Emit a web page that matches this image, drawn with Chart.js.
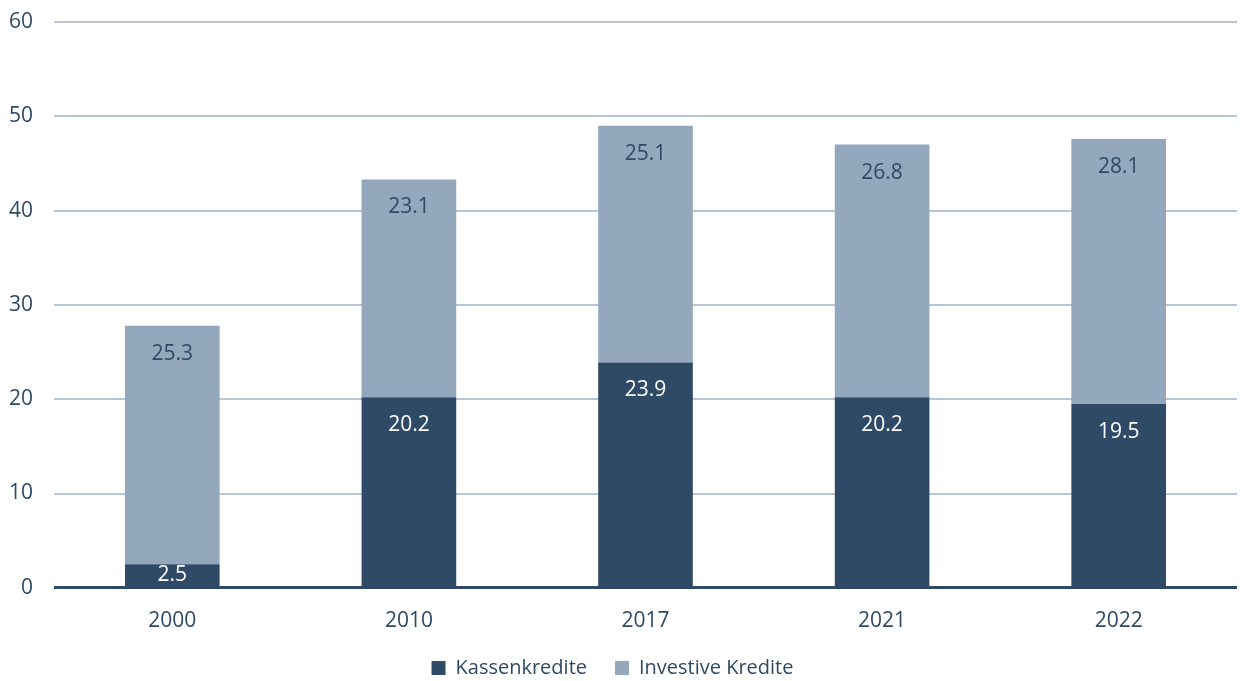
<!DOCTYPE html>
<html lang="de">
<head>
    <meta charset="UTF-8">
    <title>Kredite</title>
    <script src="https://cdn.jsdelivr.net/npm/chart.js@4/dist/chart.umd.min.js"></script>
    <style>
        * { margin: 0; padding: 0; box-sizing: border-box; }
        body { background: #ffffff; width: 1245px; height: 681px; overflow: hidden; }
        .chart-wrap { position: relative; width: 1245px; height: 681px; }
    </style>
</head>
<body>
    <div class="chart-wrap">
        <canvas id="chart"></canvas>
    </div>

    <script>
        // Data
        const years = ['2000', '2010', '2017', '2021', '2022'];
        const kassenkredite = [2.5, 20.2, 23.9, 20.2, 19.5];
        const investiveKredite = [25.3, 23.1, 25.1, 26.8, 28.1];
        const yTicks = [0, 10, 20, 30, 40, 50, 60];

        const darkBlue = '#2e4a66';
        const lightBlue = '#93a8bc';
        const gridColor = '#b8c6d3';
        const textColor = '#2e4a66';
        const fontFamily = '"Open Sans", "Noto Sans", sans-serif';

        // Value labels near the top inside each segment (centred if the segment is small)
        const barLabels = {
            id: 'barLabels',
            afterDatasetsDraw(chart) {
                const ctx = chart.ctx;
                ctx.save();
                ctx.font = '21px ' + fontFamily;
                ctx.textAlign = 'center';
                ctx.textBaseline = 'middle';
                chart.data.datasets.forEach((ds, i) => {
                    const meta = chart.getDatasetMeta(i);
                    meta.data.forEach((bar, j) => {
                        const h = bar.base - bar.y;
                        const offset = Math.min(28, h / 2);
                        ctx.fillStyle = i === 0 ? '#ffffff' : textColor;
                        ctx.fillText(ds.data[j].toFixed(1), bar.x, bar.y + offset);
                    });
                });
                ctx.restore();
            }
        };

        new Chart(document.getElementById('chart'), {
            type: 'bar',
            data: {
                labels: years,
                datasets: [
                    {
                        label: 'Kassenkredite',
                        data: kassenkredite,
                        backgroundColor: darkBlue,
                        barPercentage: 0.4,
                        categoryPercentage: 1.0
                    },
                    {
                        label: 'Investive Kredite',
                        data: investiveKredite,
                        backgroundColor: lightBlue,
                        barPercentage: 0.4,
                        categoryPercentage: 1.0
                    }
                ]
            },
            options: {
                responsive: true,
                maintainAspectRatio: false,
                animation: false,
                layout: { padding: { top: 22, right: 8, left: -12, bottom: -7 } },
                plugins: {
                    legend: {
                        position: 'bottom',
                        labels: {
                            boxWidth: 14,
                            boxHeight: 14,
                            padding: 28,
                            color: textColor,
                            font: { family: fontFamily, size: 20 }
                        }
                    },
                    tooltip: { enabled: false }
                },
                scales: {
                    x: {
                        stacked: true,
                        grid: { display: false },
                        border: { display: false },
                        afterFit(scale) {
                            scale.height -= 17;
                        },
                        ticks: {
                            color: textColor,
                            padding: 13,
                            font: { family: fontFamily, size: 21 }
                        }
                    },
                    y: {
                        stacked: true,
                        min: 0,
                        max: 60,
                        afterBuildTicks(scale) {
                            scale.ticks = yTicks.map(v => ({ value: v }));
                        },
                        afterFit(scale) {
                            scale.paddingTop = 0;
                        },
                        border: { display: false },
                        grid: {
                            drawTicks: false,
                            color: ctx => ctx.tick.value === 0 ? darkBlue : gridColor,
                            lineWidth: ctx => ctx.tick.value === 0 ? 3 : 2
                        },
                        ticks: {
                            color: textColor,
                            padding: 21,
                            font: { family: fontFamily, size: 21 }
                        }
                    }
                }
            },
            plugins: [barLabels]
        });
    </script>
</body>
</html>
